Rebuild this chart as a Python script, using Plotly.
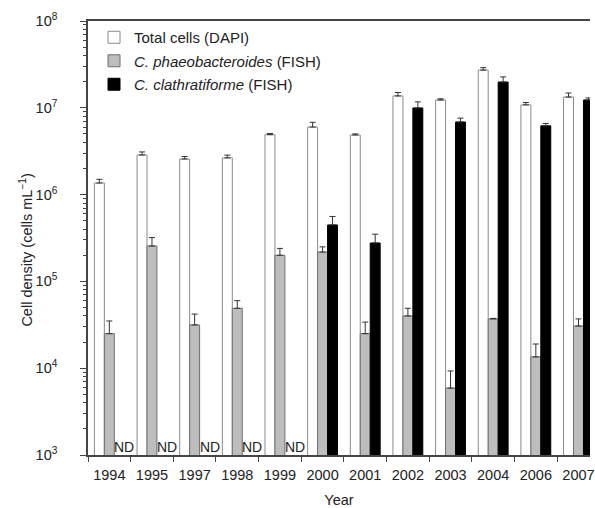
import plotly.graph_objects as go

years = ["1994", "1995", "1997", "1998", "1999", "2000", "2001", "2002", "2003", "2004", "2006", "2007"]

total = [1.36e6, 2.86e6, 2.57e6, 2.65e6, 4.9e6, 6.0e6, 4.86e6, 1.37e7, 1.23e7, 2.72e7, 1.08e7, 1.33e7]
total_err = [1.5e6, 3.1e6, 2.75e6, 2.85e6, 5.05e6, 6.8e6, 5.0e6, 1.5e7, 1.27e7, 2.9e7, 1.15e7, 1.48e7]

phaeo = [2.5e4, 2.56e5, 3.15e4, 4.9e4, 2.0e5, 2.18e5, 2.5e4, 4.0e4, 5.9e3, 3.7e4, 1.35e4, 3.06e4]
phaeo_err = [3.5e4, 3.2e5, 4.2e4, 6.0e4, 2.4e5, 2.5e5, 3.4e4, 4.9e4, 9.3e3, 3.75e4, 1.9e4, 3.7e4]

clath = [None, None, None, None, None, 4.47e5, 2.77e5, 9.96e6, 6.86e6, 1.98e7, 6.2e6, 1.23e7]
clath_err = [None, None, None, None, None, 5.6e5, 3.5e5, 1.17e7, 7.6e6, 2.27e7, 6.6e6, 1.3e7]

nd_years = ["1994", "1995", "1997", "1998", "1999"]

ytick_vals = [1e3, 1e4, 1e5, 1e6, 1e7, 1e8]
ytick_text = ["10<sup>3</sup>", "10<sup>4</sup>", "10<sup>5</sup>", "10<sup>6</sup>", "10<sup>7</sup>", "10<sup>8</sup>"]


def up_err(vals, tops):
    return [(t - v) if (v is not None and t is not None) else None for v, t in zip(vals, tops)]


FONT = "Arial, Liberation Sans, sans-serif"

fig = go.Figure()
fig.add_trace(go.Bar(
    x=years, y=total, name="Total cells (DAPI)", legendgroup="a",
    marker=dict(color="white", line=dict(color="#8a8a8a", width=1)),
    error_y=dict(type="data", symmetric=False, array=up_err(total, total_err),
                 arrayminus=[0] * len(total), color="#333", thickness=1, width=3),
))
fig.add_trace(go.Bar(
    x=years, y=phaeo, name="<i>C. phaeobacteroides</i> (FISH)", legendgroup="b",
    marker=dict(color="#bdbdbd", line=dict(color="#6e6e6e", width=1)),
    error_y=dict(type="data", symmetric=False, array=up_err(phaeo, phaeo_err),
                 arrayminus=[0] * len(phaeo), color="#333", thickness=1, width=3),
))
fig.add_trace(go.Bar(
    x=years, y=clath, name="<i>C. clathratiforme</i> (FISH)", legendgroup="c",
    marker=dict(color="black", line=dict(color="black", width=1)),
    error_y=dict(type="data", symmetric=False, array=up_err(clath, clath_err),
                 arrayminus=[0] * len(clath), color="#333", thickness=1, width=3),
))

for yr in nd_years:
    fig.add_annotation(x=years.index(yr), y=3, xref="x", yref="y", text="ND", showarrow=False,
                       xshift=15, yanchor="bottom", yshift=-2,
                       font=dict(size=14, color="#222", family=FONT))

plot_w = 595 - 88
plot_h = 508 - 21 - 53

# y-axis title placed as an annotation for exact position
fig.add_annotation(x=(25 - 88) / plot_w, y=(508 - 53 - 250) / plot_h, xref="paper", yref="paper",
                   text="Cell density (cells mL<sup>\u22121</sup>)",
                   showarrow=False, textangle=-90, xanchor="center", yanchor="middle",
                   font=dict(size=14.5, color="#222", family=FONT))

minor_vals = [m * 10 ** e for e in range(3, 8) for m in range(2, 10)]

fig.update_layout(
    width=595, height=508,
    margin=dict(l=88, r=0, t=21, b=53),
    plot_bgcolor="white", paper_bgcolor="white",
    barmode="group", bargap=0.30, bargroupgap=0,
    font=dict(family=FONT, size=14, color="#222"),
    showlegend=True,
    legend=dict(x=0.012, y=1.0, xanchor="left", yanchor="top",
                bgcolor="rgba(0,0,0,0)", font=dict(size=15, color="#222"),
                tracegroupgap=1, itemclick=False),
    xaxis=dict(
        type="category", range=[-0.5, 11.27],
        showline=True, linecolor="#444", linewidth=1.5, mirror=True,
        ticks="outside", tickson="boundaries", ticklen=5, tickcolor="#444", tickwidth=1.2,
        showgrid=False, tickfont=dict(size=14.5, color="#222"), ticklabelstandoff=6,
        title=dict(text="Year", font=dict(size=14.5, color="#222"), standoff=15),
    ),
    yaxis=dict(
        type="log", range=[3, 8],
        tickvals=ytick_vals, ticktext=ytick_text,
        showline=True, linecolor="#444", linewidth=1.5,
        ticks="outside", ticklen=6, tickcolor="#444", tickwidth=1.2,
        minor=dict(tickvals=minor_vals, ticks="outside", ticklen=3, tickcolor="#444", tickwidth=1, showgrid=False),
        showgrid=False, zeroline=False, tickfont=dict(size=14.5, color="#222"), ticklabelstandoff=20,
    ),
)

fig.write_html("out.html")
